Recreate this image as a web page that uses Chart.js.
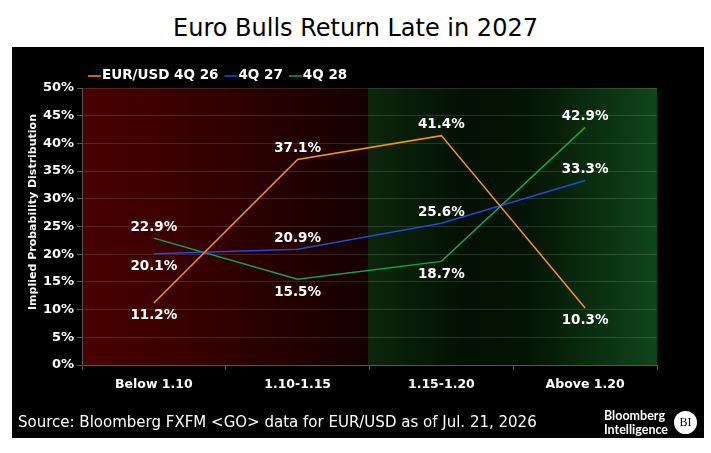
<!DOCTYPE html>
<html>
<head>
<meta charset="utf-8">
<script src="https://cdn.jsdelivr.net/npm/chart.js@4"></script>
<style>
  body { margin: 0; background: #fff; width: 711px; height: 453px; position: relative; overflow: hidden; }
  #title { position: absolute; left: 0; top: 14px; width: 711px; text-align: center;
           font-family: "DejaVu Sans", sans-serif; font-size: 24px; color: #000; }
  #panel { position: absolute; left: 12px; top: 47px; width: 692px; height: 391px; background: #000; }
  #source { position: absolute; left: 6px; top: 364px; color: #fff; font-family: "DejaVu Sans", sans-serif;
            font-stretch: condensed; font-size: 16.7px; }
  #logo { position: absolute; left: 592px; top: 362px; color: #fff; font-family: Lato, sans-serif;
          font-weight: bold; font-size: 12.5px; line-height: 14px; }
  #bi { position: absolute; left: 662px; top: 364px; width: 23px; height: 23px; border-radius: 50%; background: #fff;
        color: #000; font-family: "Liberation Serif", serif; font-size: 12px; text-align: center; line-height: 23px; }
</style>
</head>
<body>
<div id="title">Euro Bulls Return Late in 2027</div>
<div id="panel">
  <canvas id="c" width="692" height="391"></canvas>
  <div id="source">Source: Bloomberg FXFM &lt;GO&gt; data for EUR/USD as of Jul. 21, 2026</div>
  <div id="logo">Bloomberg<br>Intelligence</div>
  <div id="bi">BI</div>
</div>
<script>
const categories = ['Below 1.10', '1.10-1.15', '1.15-1.20', 'Above 1.20'];
const seriesNames = ['EUR/USD 4Q 26', '4Q 27', '4Q 28'];
const q426 = [11.2, 37.1, 41.4, 10.3];
const q427 = [20.1, 20.9, 25.6, 33.3];
const q428 = [22.9, 15.5, 18.7, 42.9];
const yTicks = [0, 5, 10, 15, 20, 25, 30, 35, 40, 45, 50];

const colors = ['#f39512', '#2448d8', '#14a54a'];
// label placement per point: -1 above, 1 below
const placement = [[1, -1, -1, 1], [1, -1, -1, -1], [-1, 1, 1, -1]];

const bgPlugin = {
  id: 'bg',
  beforeDraw(chart) {
    const { ctx, chartArea: a } = chart;
    const mid = a.left + (a.right - a.left) * 0.4975;
    let g = ctx.createLinearGradient(a.left, 0, mid, 0);
    g.addColorStop(0, '#4a0000');
    g.addColorStop(0.5, '#310000');
    g.addColorStop(1, '#140000');
    ctx.fillStyle = g;
    ctx.fillRect(a.left, a.top, mid - a.left, a.bottom - a.top);
    g = ctx.createLinearGradient(mid, 0, a.right, 0);
    g.addColorStop(0, '#0c260c');
    g.addColorStop(0.35, '#031003');
    g.addColorStop(0.55, '#041404');
    g.addColorStop(1, '#10461a');
    ctx.fillStyle = g;
    ctx.fillRect(mid, a.top, a.right - mid, a.bottom - a.top);
  }
};

const labelPlugin = {
  id: 'labels',
  afterDatasetsDraw(chart) {
    const ctx = chart.ctx;
    ctx.save();
    ctx.font = 'bold 13.5px "DejaVu Sans", sans-serif';
    ctx.fillStyle = '#fff';
    ctx.textAlign = 'center';
    ctx.textBaseline = 'middle';
    chart.data.datasets.forEach((ds, di) => {
      chart.getDatasetMeta(di).data.forEach((pt, i) => {
        const off = placement[di][i] > 0 ? 13 : -11;
        ctx.fillText(ds.data[i].toFixed(1) + '%', pt.x, pt.y + off);
      });
    });
    // legend
    let x = 76;
    const y = 28;
    ctx.textAlign = 'left';
    ctx.font = 'bold 13.5px "DejaVu Sans", sans-serif';
    seriesNames.forEach((n, i) => {
      ctx.strokeStyle = colors[i];
      ctx.lineWidth = 1.5;
      ctx.beginPath();
      ctx.moveTo(x, y + 1);
      ctx.lineTo(x + 13, y + 1);
      ctx.stroke();
      ctx.fillText(n, x + 14, y);
      x += 14 + ctx.measureText(n).width + 6;
    });
    // y axis title
    ctx.translate(21, 165);
    ctx.rotate(-Math.PI / 2);
    ctx.textAlign = 'center';
    ctx.font = 'bold 11px "DejaVu Sans", sans-serif';
    ctx.fillText('Implied Probability Distribution', 0, 0);
    ctx.restore();
  }
};

new Chart(document.getElementById('c'), {
  type: 'line',
  data: {
    labels: categories,
    datasets: [q426, q427, q428].map((d, i) => ({
      label: seriesNames[i],
      data: d,
      borderColor: colors[i],
      borderWidth: 1.5,
      pointRadius: 0,
      tension: 0
    }))
  },
  options: {
    responsive: false,
    animation: false,
    layout: { padding: { top: 41, right: 47, left: 0, bottom: 0 } },
    plugins: { legend: { display: false }, tooltip: { enabled: false } },
    scales: {
      x: {
        offset: true,
        grid: { display: true, offset: true, drawOnChartArea: false, color: '#555', tickLength: 5 },
        border: { color: '#555' },
        ticks: { color: '#fff', font: { family: 'DejaVu Sans', weight: 'bold', size: 12.5 }, padding: 7 },
        afterFit(s) { s.height = 73; }
      },
      y: {
        min: 0, max: 50,
        afterBuildTicks(s) { s.ticks = yTicks.map(v => ({ value: v })); },
        grid: { color: 'rgba(255,255,255,0.13)', tickColor: '#555', tickLength: 5 },
        border: { color: '#555' },
        ticks: { color: '#fff', font: { family: 'DejaVu Sans', weight: 'bold', size: 13 }, padding: 3,
                 callback: v => v + '%' },
        afterFit(s) { s.width = 70; }
      }
    }
  },
  plugins: [bgPlugin, labelPlugin]
});
</script>
</body>
</html>
